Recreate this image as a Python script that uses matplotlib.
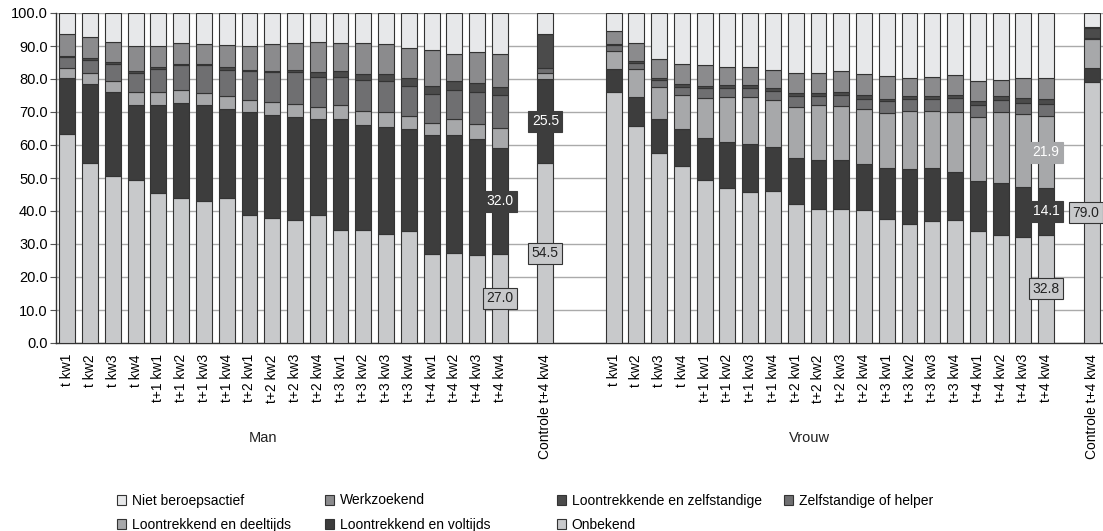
import numpy as np
import matplotlib
matplotlib.use("Agg")
import matplotlib.pyplot as plt
import matplotlib.transforms as mtransforms

plt.rcParams['font.family'] = ['Liberation Sans', 'DejaVu Sans']

# Categories: 20 periods for men, control, 20 periods for women, control
periods = ['t kw1', 't kw2', 't kw3', 't kw4']
for k in range(1, 5):
    periods += [f't+{k} kw{q}' for q in range(1, 5)]
labels = periods + ['Controle t+4 kw4'] + periods + ['Controle t+4 kw4']
groups = ['Man', 'Vrouw']

# Shares per series (bottom to top)
onbekend = [63.2, 54.6, 50.7, 49.5, 45.6, 43.8, 42.9, 43.8, 38.7, 38.0,
            37.4, 38.7, 34.3, 34.2, 32.9, 33.9, 27.1, 27.4, 26.7, 27.0, 54.5,
            76.2, 65.9, 57.6, 53.7, 49.5, 47.1, 45.7, 46.0, 42.0, 40.5,
            40.5, 40.4, 37.5, 36.2, 37.0, 37.2, 33.8, 32.8, 32.1, 32.8, 79.0]
voltijds = [17.1, 23.8, 25.3, 22.6, 26.5, 28.8, 29.2, 27.1, 31.3, 31.1,
            31.2, 29.1, 33.5, 31.9, 32.7, 30.8, 36.0, 35.7, 35.0, 32.0, 25.5,
            6.9, 8.7, 10.3, 11.0, 12.5, 13.9, 14.6, 13.3, 14.2, 15.1,
            15.1, 13.8, 15.4, 16.4, 15.9, 14.7, 15.2, 15.8, 15.2, 14.1, 4.2]
deeltijds = [3.0, 3.4, 3.4, 4.1, 4.1, 4.1, 3.8, 3.8, 3.7, 3.8,
             3.8, 3.6, 4.3, 4.3, 4.5, 4.2, 3.5, 4.8, 4.7, 6.0, 1.8,
             5.5, 8.5, 9.6, 10.5, 12.2, 13.4, 14.1, 14.2, 15.4, 16.4,
             16.3, 16.6, 16.9, 17.8, 17.5, 18.2, 19.6, 21.3, 22.0, 21.9, 8.9]
zelfstandige = [3.3, 4.0, 5.2, 5.7, 6.8, 7.4, 8.2, 8.1, 8.6, 9.1,
                9.8, 9.3, 8.6, 9.3, 9.3, 9.1, 8.8, 8.8, 9.6, 10.2, 1.5,
                1.6, 1.7, 2.2, 2.3, 3.0, 3.0, 3.0, 3.0, 3.1, 2.9,
                3.3, 3.2, 3.4, 3.5, 3.5, 4.1, 3.5, 3.8, 3.3, 3.6, 0.3]
loon_zelf = [0.5, 0.7, 0.4, 0.4, 0.6, 0.4, 0.4, 0.7, 0.5, 0.5,
             0.6, 1.3, 1.8, 1.9, 2.1, 2.4, 2.6, 2.7, 2.7, 2.5, 10.4,
             0.3, 0.8, 0.7, 0.9, 0.7, 0.7, 0.7, 0.9, 1.0, 0.8,
             1.0, 1.0, 0.8, 0.8, 0.8, 1.0, 1.1, 1.3, 1.6, 1.6, 3.2]
werkzoekend = [6.4, 6.2, 6.3, 7.7, 6.4, 6.5, 6.2, 6.8, 7.2, 8.2,
               8.1, 9.3, 8.4, 9.3, 9.2, 8.9, 10.7, 8.2, 9.6, 9.9, 0.0,
               3.9, 5.2, 5.8, 6.1, 6.3, 5.5, 5.4, 5.4, 6.1, 6.1,
               6.1, 6.5, 7.0, 5.7, 6.0, 6.1, 6.2, 4.7, 6.2, 6.4, 0.3]
niet_actief = [6.5, 7.3, 8.7, 10.0, 10.0, 9.0, 9.3, 9.7, 10.0, 9.3,
               9.1, 8.7, 9.1, 9.1, 9.3, 10.7, 11.3, 12.4, 11.7, 12.4, 6.3,
               5.6, 9.2, 13.8, 15.5, 15.8, 16.4, 16.5, 17.2, 18.2, 18.2,
               17.7, 18.5, 19.0, 19.6, 19.3, 18.7, 20.6, 20.3, 19.6, 19.6, 4.1]

series = [
    ('Onbekend', onbekend, '#c8c9cb'),
    ('Loontrekkend en voltijds', voltijds, '#3d3d3d'),
    ('Loontrekkend en deeltijds', deeltijds, '#a7a8aa'),
    ('Zelfstandige of helper', zelfstandige, '#6f6f71'),
    ('Loontrekkende en zelfstandige', loon_zelf, '#4b4b4b'),
    ('Werkzoekend', werkzoekend, '#8b8b8d'),
    ('Niet beroepsactief', niet_actief, '#e7e8ea'),
]

# Segments that carry a value label: (bar index, series index)
labelled = [(19, 0), (19, 1), (20, 0), (20, 1), (40, 0), (40, 1), (40, 2), (41, 0)]

# x positions with gaps around the control bars
xpos = np.array(list(range(0, 20)) + [21] + list(range(24, 44)) + [45])

fig = plt.figure(figsize=(11.03, 5.31), dpi=100)
ax = fig.add_axes([56 / 1103, 1 - 343 / 531, 1 - 56 / 1103, 330 / 531])

bottom = np.zeros(len(xpos))
bottoms = []
handles = {}
for name, vals, col in series:
    vals = np.array(vals)
    bc = ax.bar(xpos, vals, 0.7, bottom=bottom, color=col,
                edgecolor='#333333', linewidth=0.8, label=name, zorder=3)
    handles[name] = bc
    bottoms.append(bottom.copy())
    bottom = bottom + vals

# Value labels in boxes
box_style = {
    0: dict(fc='#c8c9cb', ec='#333333', tc='#222222'),
    1: dict(fc='#3d3d3d', ec='#3d3d3d', tc='white'),
    2: dict(fc='#a7a8aa', ec='#a7a8aa', tc='white'),
}
for bi, si in labelled:
    v = series[si][1][bi]
    yc = bottoms[si][bi] + v / 2
    st = box_style[si]
    dx = -6 if bi == len(xpos) - 1 else 0
    ax.annotate(f'{v:.1f}', (xpos[bi], yc), xytext=(dx, 0),
                textcoords='offset pixels', ha='center', va='center',
                fontsize=10, color=st['tc'], zorder=5, annotation_clip=False,
                bbox=dict(boxstyle='square,pad=0.25', fc=st['fc'],
                          ec=st['ec'], lw=0.8))

ax.set_xlim(-0.5, 45.5)
ax.set_ylim(0, 100)
ax.set_yticks(np.arange(0, 101, 10))
ax.set_yticklabels([f'{t:.1f}' for t in np.arange(0, 101, 10)], fontsize=10.5)
ax.set_xticks(xpos)
ax.set_xticklabels(labels, rotation=90, fontsize=10)
ax.tick_params(axis='x', length=0, pad=8)
ax.tick_params(axis='y', length=4, color='#555555', pad=2)
ax.yaxis.grid(True, color='#aaaaaa', linewidth=1.0, zorder=0)
ax.set_axisbelow(True)
for s in ['top', 'right']:
    ax.spines[s].set_visible(False)
for s in ['left', 'bottom']:
    ax.spines[s].set_color('#333333')
    ax.spines[s].set_linewidth(1.0)

# Group labels under the tick labels
trans = mtransforms.blended_transform_factory(ax.transData, ax.transAxes)
ax.text(np.mean(xpos[:20]) - 0.9, -0.288, groups[0], transform=trans,
        ha='center', va='center', fontsize=10.5, color='#222222')
ax.text(np.mean(xpos[21:41]) - 0.9, -0.288, groups[1], transform=trans,
        ha='center', va='center', fontsize=10.5, color='#222222')

# Legend, filled row by row in the picture: one small legend per column
legend_cols = [['Niet beroepsactief', 'Loontrekkend en deeltijds'],
               ['Werkzoekend', 'Loontrekkend en voltijds'],
               ['Loontrekkende en zelfstandige', 'Onbekend'],
               ['Zelfstandige of helper']]
col_x = [104, 312, 544, 771]
for names, px in zip(legend_cols, col_x):
    fig.legend([handles[n] for n in names], names, ncol=1, frameon=False,
               loc='upper left', bbox_to_anchor=(px / 1103, 1 - 481 / 531),
               fontsize=10, handlelength=0.7, handleheight=0.7,
               handletextpad=0.4, labelspacing=0.75)

fig.savefig('out.png', dpi=100)
